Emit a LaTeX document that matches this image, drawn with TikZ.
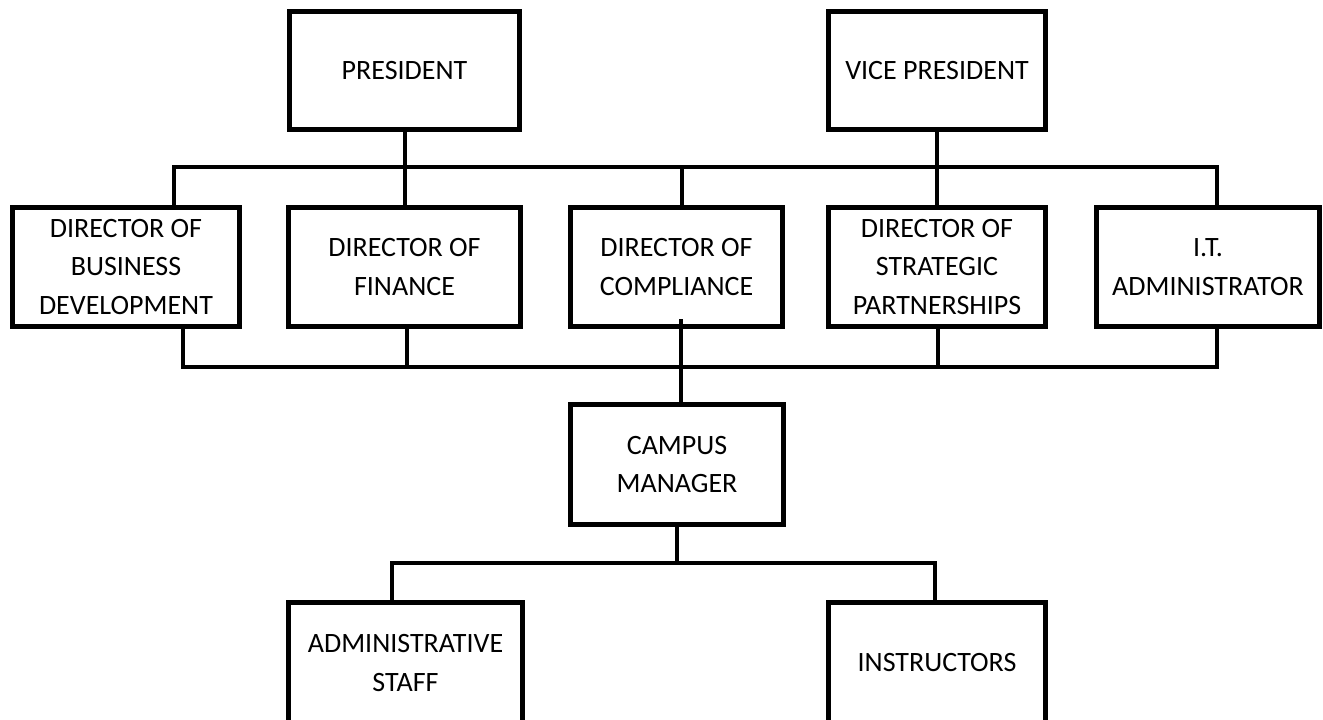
\documentclass[tikz,border=0pt]{standalone}
\usepackage{fontspec}
\setmainfont{Carlito}
\begin{document}
\begin{tikzpicture}[x=0.75pt,y=-0.75pt,
  box/.style={draw=black,line width=3.75pt,inner sep=0pt,align=center,
    font=\fontsize{21}{29}\selectfont},
  wire/.style={draw=black,line width=3pt}]
\useasboundingbox (0,0) rectangle (1323,719);
\clip (0,0) rectangle (1323,719);
% boxes (sizes are path sizes = outer - 5px)
\node[box,minimum width=172.5pt,minimum height=88.5pt] (pres) at (404.5,70.5) {PRESIDENT};
\node[box,minimum width=162.75pt,minimum height=88.5pt] (vp) at (937,70.5) {VICE PRESIDENT};
\node[box,minimum width=170.25pt,minimum height=89.25pt] (bd) at (126,267) {DIRECTOR OF\\BUSINESS\\DEVELOPMENT};
\node[box,minimum width=174pt,minimum height=89.25pt] (fin) at (404.5,267) {DIRECTOR OF\\FINANCE};
\node[box,minimum width=159pt,minimum height=89.25pt] (comp) at (676.5,267) {DIRECTOR OF\\COMPLIANCE};
\node[box,minimum width=162.75pt,minimum height=89.25pt] (strat) at (937,267) {DIRECTOR OF\\STRATEGIC\\PARTNERSHIPS};
\node[box,minimum width=167.25pt,minimum height=89.25pt] (it) at (1208,267) {I.T.\\ADMINISTRATOR};
\node[box,minimum width=159.75pt,minimum height=90pt] (campus) at (677,464.5) {CAMPUS\\MANAGER};
\node[box,minimum width=175.5pt,minimum height=90.75pt] (admin) at (405.5,663) {ADMINISTRATIVE\\STAFF};
\node[box,minimum width=162.75pt,minimum height=90.75pt] (instr) at (937,663) {INSTRUCTORS};
% bus coordinates
\coordinate (tbl) at (174,167);
\coordinate (tbr) at (1217,167);
\coordinate (ctop) at (682,167);
\coordinate (bbl) at (183,367);
\coordinate (bbr) at (1217,367);
\coordinate (bfin) at (407,367);
\coordinate (bstr) at (938,367);
\coordinate (bcomp) at (681,319);
\coordinate (lbl) at (392,563);
\coordinate (lbr) at (935,563);
% top level
\draw[wire] (pres.south) -- (fin.north);
\draw[wire] (vp.south) -- (strat.north);
\draw[wire] (bd.north -| tbl) -- (tbl) -- (tbr) -- (it.north -| tbr);
\draw[wire] (ctop) -- (comp.north -| ctop);
% bottom bus
\draw[wire] (bd.south -| bbl) -- (bbl) -- (bbr) -- (it.south -| bbr);
\draw[wire] (fin.south -| bfin) -- (bfin);
\draw[wire] (strat.south -| bstr) -- (bstr);
\draw[wire] (bcomp) -- (campus.north -| bcomp);
% lower
\draw[wire] (campus.south) -- (campus.south |- lbl);
\draw[wire] (admin.north -| lbl) -- (lbl) -- (lbr) -- (instr.north -| lbr);
\end{tikzpicture}
\end{document}
